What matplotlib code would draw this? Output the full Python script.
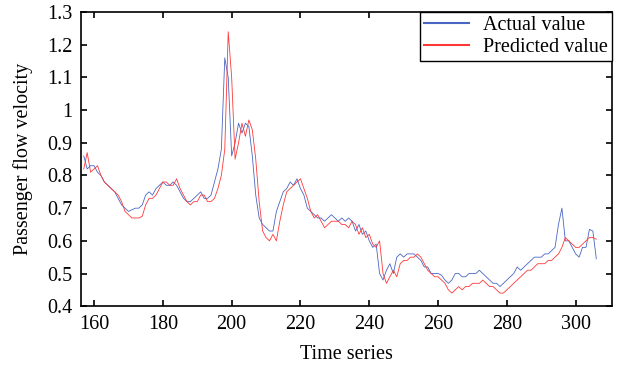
import numpy as np
import matplotlib
matplotlib.use('Agg')
import matplotlib.pyplot as plt

plt.rcParams['font.family'] = 'Liberation Serif'
plt.rcParams['font.size'] = 14.5

t_start = 157
actual = [0.86, 0.82, 0.83, 0.83, 0.81, 0.80, 0.78, 0.77, 0.76, 0.75,
          0.73, 0.71, 0.70, 0.69, 0.695, 0.70, 0.70, 0.71, 0.74, 0.75,
          0.74, 0.76, 0.77, 0.78, 0.77, 0.77, 0.78, 0.77, 0.75, 0.73,
          0.72, 0.72, 0.73, 0.74, 0.75, 0.73, 0.73, 0.74, 0.78, 0.82,
          0.88, 1.16, 1.10, 0.86, 0.90, 0.96, 0.93, 0.96, 0.95, 0.86,
          0.74, 0.67, 0.65, 0.64, 0.63, 0.63, 0.69, 0.72, 0.75, 0.76,
          0.78, 0.77, 0.79, 0.76, 0.74, 0.70, 0.69, 0.68, 0.67, 0.67,
          0.66, 0.67, 0.68, 0.67, 0.66, 0.67, 0.66, 0.67, 0.66, 0.63,
          0.65, 0.62, 0.63, 0.60, 0.58, 0.59, 0.50, 0.48, 0.51, 0.53,
          0.50, 0.55, 0.56, 0.55, 0.56, 0.56, 0.56, 0.55, 0.54, 0.52,
          0.52, 0.50, 0.50, 0.50, 0.495, 0.48, 0.47, 0.48, 0.50, 0.50,
          0.49, 0.49, 0.50, 0.50, 0.50, 0.51, 0.50, 0.49, 0.48, 0.47,
          0.47, 0.46, 0.47, 0.48, 0.49, 0.50, 0.52, 0.51, 0.52, 0.53,
          0.54, 0.55, 0.55, 0.55, 0.56, 0.56, 0.57, 0.58, 0.65, 0.70,
          0.60, 0.60, 0.58, 0.56, 0.55, 0.58, 0.58, 0.635, 0.63, 0.545]
predicted = [0.82, 0.87, 0.81, 0.82, 0.83, 0.80, 0.78, 0.77, 0.76, 0.75,
             0.74, 0.72, 0.69, 0.68, 0.67, 0.67, 0.67, 0.675, 0.71, 0.73,
             0.73, 0.74, 0.76, 0.78, 0.78, 0.77, 0.77, 0.79, 0.76, 0.74,
             0.72, 0.71, 0.72, 0.72, 0.74, 0.74, 0.72, 0.72, 0.73, 0.76,
             0.80, 0.88, 1.24, 1.10, 0.85, 0.90, 0.96, 0.92, 0.97, 0.94,
             0.85, 0.72, 0.63, 0.61, 0.60, 0.62, 0.60, 0.66, 0.71, 0.75,
             0.76, 0.77, 0.78, 0.79, 0.76, 0.73, 0.69, 0.67, 0.68, 0.66,
             0.64, 0.65, 0.66, 0.66, 0.66, 0.65, 0.65, 0.64, 0.66, 0.65,
             0.62, 0.64, 0.61, 0.62, 0.59, 0.58, 0.60, 0.50, 0.47, 0.49,
             0.51, 0.49, 0.53, 0.54, 0.54, 0.55, 0.55, 0.56, 0.55, 0.53,
             0.51, 0.50, 0.49, 0.49, 0.48, 0.47, 0.45, 0.44, 0.45, 0.46,
             0.45, 0.46, 0.46, 0.47, 0.47, 0.47, 0.48, 0.47, 0.46, 0.46,
             0.45, 0.44, 0.44, 0.45, 0.46, 0.47, 0.48, 0.49, 0.50, 0.51,
             0.51, 0.52, 0.53, 0.53, 0.53, 0.54, 0.54, 0.55, 0.56, 0.58,
             0.61, 0.60, 0.59, 0.58, 0.58, 0.59, 0.60, 0.61, 0.61, 0.605]
t = np.arange(t_start, t_start + len(actual))

fig = plt.figure(figsize=(6.23, 3.68), dpi=100)
ax = fig.add_axes([0.130, 0.168, 0.852, 0.799])

ax.plot(t, actual, color='#4a66c4', lw=0.6, label='Actual value')
ax.plot(t, predicted, color='#ff3838', lw=0.6, label='Predicted value')

ax.set_xlim(156.2, 310.5)
ax.set_ylim(0.4, 1.3)
ax.set_xticks(np.arange(160, 301, 20))
ax.set_yticks(np.arange(0.4, 1.31, 0.1))
ax.set_yticklabels(['0.4', '0.5', '0.6', '0.7', '0.8', '0.9', '1', '1.1', '1.2', '1.3'])
ax.tick_params(direction='in', top=True, right=True, width=1.2, length=4, pad=6)
for s in ax.spines.values():
    s.set_linewidth(1.2)

ax.set_xlabel('Time series', labelpad=8)
ax.set_ylabel('Passenger flow velocity', labelpad=10)

leg = ax.legend(loc='upper right', borderaxespad=0, fancybox=False,
                edgecolor='black', framealpha=1, handlelength=2.2,
                borderpad=0.2, labelspacing=0.15, handletextpad=0.7)
leg.get_frame().set_linewidth(1.0)
for h in leg.get_lines():
    h.set_linewidth(1.5)

fig.savefig('out.png', dpi=100)
